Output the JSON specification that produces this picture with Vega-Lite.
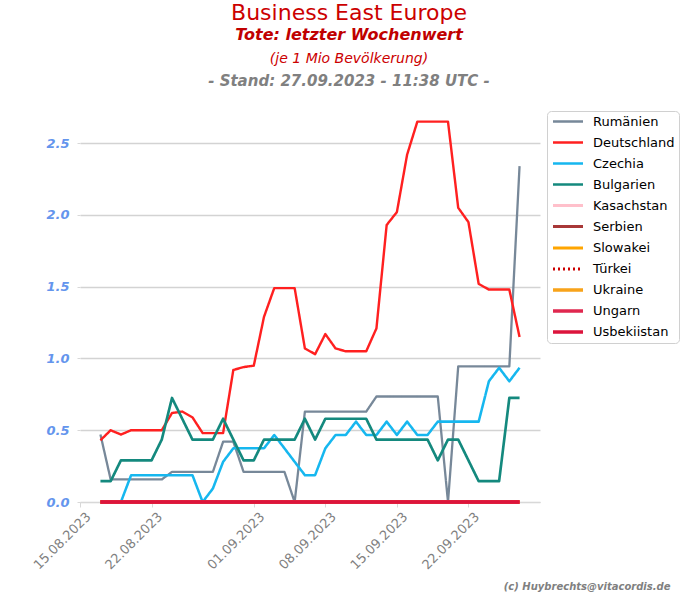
{
  "$schema": "https://vega.github.io/schema/vega-lite/v6.json",
  "background": "white",
  "padding": {"left": 31, "top": 2, "right": 5, "bottom": 5},
  "config": {"font": "DejaVu Sans", "view": {"stroke": null}, "concat": {"spacing": 0}},
  "title": {
    "text": "Business East Europe",
    "subtitle": "Tote: letzter Wochenwert",
    "font": "DejaVu Sans", "fontSize": 22, "fontWeight": "normal", "color": "#cc0000",
    "subtitleFont": "DejaVu Sans", "subtitleFontSize": 16, "subtitleFontWeight": "bold", "subtitleFontStyle": "italic", "subtitleColor": "#c00000",
    "subtitlePadding": 2, "anchor": "middle", "frame": "group", "dx": 39, "offset": 8
  },
  "vconcat": [
    {
      "width": 460,
      "height": 399,
      "title": {
        "text": "(je 1 Mio Bevölkerung)",
        "subtitle": "- Stand: 27.09.2023 - 11:38 UTC -",
        "font": "DejaVu Sans", "fontSize": 14, "fontWeight": "normal", "fontStyle": "italic", "color": "#cc0000",
        "subtitleFont": "DejaVu Sans", "subtitleFontSize": 15, "subtitleFontWeight": "bold", "subtitleFontStyle": "italic", "subtitleColor": "#808080",
        "subtitlePadding": 8, "anchor": "middle", "frame": "group", "dx": 39, "offset": 14
      },
      "data": {"values": [
        {"Datum": "2023-08-17", "Rumänien": 0.47, "Deutschland": 0.43, "Czechia": null, "Bulgarien": 0.145, "Kasachstan": 0, "Serbien": 0, "Slowakei": 0, "Türkei": 0, "Ukraine": 0, "Ungarn": 0, "Usbekiistan": 0},
        {"Datum": "2023-08-18", "Rumänien": 0.157, "Deutschland": 0.5, "Czechia": null, "Bulgarien": 0.145, "Kasachstan": 0, "Serbien": 0, "Slowakei": 0, "Türkei": 0, "Ukraine": 0, "Ungarn": 0, "Usbekiistan": 0},
        {"Datum": "2023-08-19", "Rumänien": 0.157, "Deutschland": 0.47, "Czechia": 0, "Bulgarien": 0.29, "Kasachstan": 0, "Serbien": 0, "Slowakei": 0, "Türkei": 0, "Ukraine": 0, "Ungarn": 0, "Usbekiistan": 0},
        {"Datum": "2023-08-20", "Rumänien": 0.157, "Deutschland": 0.5, "Czechia": 0.187, "Bulgarien": 0.29, "Kasachstan": 0, "Serbien": 0, "Slowakei": 0, "Türkei": 0, "Ukraine": 0, "Ungarn": 0, "Usbekiistan": 0},
        {"Datum": "2023-08-21", "Rumänien": 0.157, "Deutschland": 0.5, "Czechia": 0.187, "Bulgarien": 0.29, "Kasachstan": 0, "Serbien": 0, "Slowakei": 0, "Türkei": 0, "Ukraine": 0, "Ungarn": 0, "Usbekiistan": 0},
        {"Datum": "2023-08-22", "Rumänien": 0.157, "Deutschland": 0.5, "Czechia": 0.187, "Bulgarien": 0.29, "Kasachstan": 0, "Serbien": 0, "Slowakei": 0, "Türkei": 0, "Ukraine": 0, "Ungarn": 0, "Usbekiistan": 0},
        {"Datum": "2023-08-23", "Rumänien": 0.157, "Deutschland": 0.5, "Czechia": 0.187, "Bulgarien": 0.435, "Kasachstan": 0, "Serbien": 0, "Slowakei": 0, "Türkei": 0, "Ukraine": 0, "Ungarn": 0, "Usbekiistan": 0},
        {"Datum": "2023-08-24", "Rumänien": 0.21, "Deutschland": 0.62, "Czechia": 0.187, "Bulgarien": 0.725, "Kasachstan": 0, "Serbien": 0, "Slowakei": 0, "Türkei": 0, "Ukraine": 0, "Ungarn": 0, "Usbekiistan": 0},
        {"Datum": "2023-08-25", "Rumänien": 0.21, "Deutschland": 0.63, "Czechia": 0.187, "Bulgarien": 0.58, "Kasachstan": 0, "Serbien": 0, "Slowakei": 0, "Türkei": 0, "Ukraine": 0, "Ungarn": 0, "Usbekiistan": 0},
        {"Datum": "2023-08-26", "Rumänien": 0.21, "Deutschland": 0.59, "Czechia": 0.187, "Bulgarien": 0.435, "Kasachstan": 0, "Serbien": 0, "Slowakei": 0, "Türkei": 0, "Ukraine": 0, "Ungarn": 0, "Usbekiistan": 0},
        {"Datum": "2023-08-27", "Rumänien": 0.21, "Deutschland": 0.48, "Czechia": 0, "Bulgarien": 0.435, "Kasachstan": 0, "Serbien": 0, "Slowakei": 0, "Türkei": 0, "Ukraine": 0, "Ungarn": 0, "Usbekiistan": 0},
        {"Datum": "2023-08-28", "Rumänien": 0.21, "Deutschland": 0.48, "Czechia": 0.094, "Bulgarien": 0.435, "Kasachstan": 0, "Serbien": 0, "Slowakei": 0, "Türkei": 0, "Ukraine": 0, "Ungarn": 0, "Usbekiistan": 0},
        {"Datum": "2023-08-29", "Rumänien": 0.42, "Deutschland": 0.48, "Czechia": 0.28, "Bulgarien": 0.58, "Kasachstan": 0, "Serbien": 0, "Slowakei": 0, "Türkei": 0, "Ukraine": 0, "Ungarn": 0, "Usbekiistan": 0},
        {"Datum": "2023-08-30", "Rumänien": 0.42, "Deutschland": 0.92, "Czechia": 0.374, "Bulgarien": 0.435, "Kasachstan": 0, "Serbien": 0, "Slowakei": 0, "Türkei": 0, "Ukraine": 0, "Ungarn": 0, "Usbekiistan": 0},
        {"Datum": "2023-08-31", "Rumänien": 0.21, "Deutschland": 0.94, "Czechia": 0.374, "Bulgarien": 0.29, "Kasachstan": 0, "Serbien": 0, "Slowakei": 0, "Türkei": 0, "Ukraine": 0, "Ungarn": 0, "Usbekiistan": 0},
        {"Datum": "2023-09-01", "Rumänien": 0.21, "Deutschland": 0.95, "Czechia": 0.374, "Bulgarien": 0.29, "Kasachstan": 0, "Serbien": 0, "Slowakei": 0, "Türkei": 0, "Ukraine": 0, "Ungarn": 0, "Usbekiistan": 0},
        {"Datum": "2023-09-02", "Rumänien": 0.21, "Deutschland": 1.29, "Czechia": 0.374, "Bulgarien": 0.435, "Kasachstan": 0, "Serbien": 0, "Slowakei": 0, "Türkei": 0, "Ukraine": 0, "Ungarn": 0, "Usbekiistan": 0},
        {"Datum": "2023-09-03", "Rumänien": 0.21, "Deutschland": 1.49, "Czechia": 0.467, "Bulgarien": 0.435, "Kasachstan": 0, "Serbien": 0, "Slowakei": 0, "Türkei": 0, "Ukraine": 0, "Ungarn": 0, "Usbekiistan": 0},
        {"Datum": "2023-09-04", "Rumänien": 0.21, "Deutschland": 1.49, "Czechia": 0.374, "Bulgarien": 0.435, "Kasachstan": 0, "Serbien": 0, "Slowakei": 0, "Türkei": 0, "Ukraine": 0, "Ungarn": 0, "Usbekiistan": 0},
        {"Datum": "2023-09-05", "Rumänien": 0, "Deutschland": 1.49, "Czechia": 0.28, "Bulgarien": 0.435, "Kasachstan": 0, "Serbien": 0, "Slowakei": 0, "Türkei": 0, "Ukraine": 0, "Ungarn": 0, "Usbekiistan": 0},
        {"Datum": "2023-09-06", "Rumänien": 0.63, "Deutschland": 1.07, "Czechia": 0.187, "Bulgarien": 0.58, "Kasachstan": 0, "Serbien": 0, "Slowakei": 0, "Türkei": 0, "Ukraine": 0, "Ungarn": 0, "Usbekiistan": 0},
        {"Datum": "2023-09-07", "Rumänien": 0.63, "Deutschland": 1.03, "Czechia": 0.187, "Bulgarien": 0.435, "Kasachstan": 0, "Serbien": 0, "Slowakei": 0, "Türkei": 0, "Ukraine": 0, "Ungarn": 0, "Usbekiistan": 0},
        {"Datum": "2023-09-08", "Rumänien": 0.63, "Deutschland": 1.17, "Czechia": 0.374, "Bulgarien": 0.58, "Kasachstan": 0, "Serbien": 0, "Slowakei": 0, "Türkei": 0, "Ukraine": 0, "Ungarn": 0, "Usbekiistan": 0},
        {"Datum": "2023-09-09", "Rumänien": 0.63, "Deutschland": 1.07, "Czechia": 0.467, "Bulgarien": 0.58, "Kasachstan": 0, "Serbien": 0, "Slowakei": 0, "Türkei": 0, "Ukraine": 0, "Ungarn": 0, "Usbekiistan": 0},
        {"Datum": "2023-09-10", "Rumänien": 0.63, "Deutschland": 1.05, "Czechia": 0.467, "Bulgarien": 0.58, "Kasachstan": 0, "Serbien": 0, "Slowakei": 0, "Türkei": 0, "Ukraine": 0, "Ungarn": 0, "Usbekiistan": 0},
        {"Datum": "2023-09-11", "Rumänien": 0.63, "Deutschland": 1.05, "Czechia": 0.56, "Bulgarien": 0.58, "Kasachstan": 0, "Serbien": 0, "Slowakei": 0, "Türkei": 0, "Ukraine": 0, "Ungarn": 0, "Usbekiistan": 0},
        {"Datum": "2023-09-12", "Rumänien": 0.63, "Deutschland": 1.05, "Czechia": 0.467, "Bulgarien": 0.58, "Kasachstan": 0, "Serbien": 0, "Slowakei": 0, "Türkei": 0, "Ukraine": 0, "Ungarn": 0, "Usbekiistan": 0},
        {"Datum": "2023-09-13", "Rumänien": 0.735, "Deutschland": 1.21, "Czechia": 0.467, "Bulgarien": 0.435, "Kasachstan": 0, "Serbien": 0, "Slowakei": 0, "Türkei": 0, "Ukraine": 0, "Ungarn": 0, "Usbekiistan": 0},
        {"Datum": "2023-09-14", "Rumänien": 0.735, "Deutschland": 1.93, "Czechia": 0.56, "Bulgarien": 0.435, "Kasachstan": 0, "Serbien": 0, "Slowakei": 0, "Türkei": 0, "Ukraine": 0, "Ungarn": 0, "Usbekiistan": 0},
        {"Datum": "2023-09-15", "Rumänien": 0.735, "Deutschland": 2.02, "Czechia": 0.467, "Bulgarien": 0.435, "Kasachstan": 0, "Serbien": 0, "Slowakei": 0, "Türkei": 0, "Ukraine": 0, "Ungarn": 0, "Usbekiistan": 0},
        {"Datum": "2023-09-16", "Rumänien": 0.735, "Deutschland": 2.42, "Czechia": 0.56, "Bulgarien": 0.435, "Kasachstan": 0, "Serbien": 0, "Slowakei": 0, "Türkei": 0, "Ukraine": 0, "Ungarn": 0, "Usbekiistan": 0},
        {"Datum": "2023-09-17", "Rumänien": 0.735, "Deutschland": 2.65, "Czechia": 0.467, "Bulgarien": 0.435, "Kasachstan": 0, "Serbien": 0, "Slowakei": 0, "Türkei": 0, "Ukraine": 0, "Ungarn": 0, "Usbekiistan": 0},
        {"Datum": "2023-09-18", "Rumänien": 0.735, "Deutschland": 2.65, "Czechia": 0.467, "Bulgarien": 0.435, "Kasachstan": 0, "Serbien": 0, "Slowakei": 0, "Türkei": 0, "Ukraine": 0, "Ungarn": 0, "Usbekiistan": 0},
        {"Datum": "2023-09-19", "Rumänien": 0.735, "Deutschland": 2.65, "Czechia": 0.56, "Bulgarien": 0.29, "Kasachstan": 0, "Serbien": 0, "Slowakei": 0, "Türkei": 0, "Ukraine": 0, "Ungarn": 0, "Usbekiistan": 0},
        {"Datum": "2023-09-20", "Rumänien": 0, "Deutschland": 2.65, "Czechia": 0.56, "Bulgarien": 0.435, "Kasachstan": 0, "Serbien": 0, "Slowakei": 0, "Türkei": 0, "Ukraine": 0, "Ungarn": 0, "Usbekiistan": 0},
        {"Datum": "2023-09-21", "Rumänien": 0.945, "Deutschland": 2.05, "Czechia": 0.56, "Bulgarien": 0.435, "Kasachstan": 0, "Serbien": 0, "Slowakei": 0, "Türkei": 0, "Ukraine": 0, "Ungarn": 0, "Usbekiistan": 0},
        {"Datum": "2023-09-22", "Rumänien": 0.945, "Deutschland": 1.95, "Czechia": 0.56, "Bulgarien": 0.29, "Kasachstan": 0, "Serbien": 0, "Slowakei": 0, "Türkei": 0, "Ukraine": 0, "Ungarn": 0, "Usbekiistan": 0},
        {"Datum": "2023-09-23", "Rumänien": 0.945, "Deutschland": 1.52, "Czechia": 0.56, "Bulgarien": 0.145, "Kasachstan": 0, "Serbien": 0, "Slowakei": 0, "Türkei": 0, "Ukraine": 0, "Ungarn": 0, "Usbekiistan": 0},
        {"Datum": "2023-09-24", "Rumänien": 0.945, "Deutschland": 1.48, "Czechia": 0.841, "Bulgarien": 0.145, "Kasachstan": 0, "Serbien": 0, "Slowakei": 0, "Türkei": 0, "Ukraine": 0, "Ungarn": 0, "Usbekiistan": 0},
        {"Datum": "2023-09-25", "Rumänien": 0.945, "Deutschland": 1.48, "Czechia": 0.935, "Bulgarien": 0.145, "Kasachstan": 0, "Serbien": 0, "Slowakei": 0, "Türkei": 0, "Ukraine": 0, "Ungarn": 0, "Usbekiistan": 0},
        {"Datum": "2023-09-26", "Rumänien": 0.945, "Deutschland": 1.48, "Czechia": 0.841, "Bulgarien": 0.725, "Kasachstan": 0, "Serbien": 0, "Slowakei": 0, "Türkei": 0, "Ukraine": 0, "Ungarn": 0, "Usbekiistan": 0},
        {"Datum": "2023-09-27", "Rumänien": 2.34, "Deutschland": 1.15, "Czechia": 0.935, "Bulgarien": 0.725, "Kasachstan": 0, "Serbien": 0, "Slowakei": 0, "Türkei": 0, "Ukraine": 0, "Ungarn": 0, "Usbekiistan": 0}
      ]},
      "transform": [
        {"fold": ["Rumänien", "Deutschland", "Czechia", "Bulgarien", "Kasachstan", "Serbien", "Slowakei", "Türkei", "Ukraine", "Ungarn", "Usbekiistan"], "as": ["Land", "Wert"]}
      ],
      "mark": {"type": "line", "strokeJoin": "round", "strokeCap": "butt"},
      "encoding": {
        "x": {
          "field": "Datum", "type": "temporal",
          "scale": {"type": "utc", "domain": [{"year": 2023, "month": 8, "date": 15, "utc": true}, {"year": 2023, "month": 9, "date": 29, "utc": true}]},
          "axis": {
            "values": [
              {"year": 2023, "month": 8, "date": 15, "utc": true},
              {"year": 2023, "month": 8, "date": 22, "utc": true},
              {"year": 2023, "month": 9, "date": 1, "utc": true},
              {"year": 2023, "month": 9, "date": 8, "utc": true},
              {"year": 2023, "month": 9, "date": 15, "utc": true},
              {"year": 2023, "month": 9, "date": 22, "utc": true}
            ],
            "labelExpr": "utcFormat(datum.value, '%d.%m.%Y')",
            "labelAngle": -45, "labelColor": "#808080", "labelFontSize": 13, "labelFont": "DejaVu Sans", "labelPadding": 3, "labelOffset": 4,
            "domainColor": "#d8d8d8", "tickColor": "#d8d8d8", "tickSize": 5, "grid": false,
            "title": "(c) Huybrechts@vitacordis.de",
            "titleX": 590, "titleY": 87, "titleAlign": "right", "titleBaseline": "alphabetic",
            "titleFontSize": 10, "titleFontStyle": "italic", "titleFontWeight": "bold", "titleColor": "#808080", "titleFont": "DejaVu Sans"
          }
        },
        "y": {
          "field": "Wert", "type": "quantitative",
          "scale": {"domain": [0, 2.78], "nice": false, "zero": true},
          "axis": {
            "values": [0, 0.5, 1, 1.5, 2, 2.5], "format": ".1f",
            "labelColor": "#6495ed", "labelFontWeight": "bold", "labelFontStyle": "italic", "labelFontSize": 13, "labelFont": "DejaVu Sans",
            "labelPadding": 8, "domain": false, "ticks": true, "tickColor": "#d8d8d8", "tickSize": 3,
            "gridColor": "#d3d3d3", "gridWidth": 1.5, "title": null
          }
        },
        "color": {
          "field": "Land", "type": "nominal",
          "scale": {
            "domain": ["Rumänien", "Deutschland", "Czechia", "Bulgarien", "Kasachstan", "Serbien", "Slowakei", "Türkei", "Ukraine", "Ungarn", "Usbekiistan"],
            "range": ["#778899", "#ff2020", "#16b7ef", "#14897e", "#ffc0cb", "#a83838", "#ffa500", "#cc0000", "#f8a31a", "#e0284f", "#dc143c"]
          },
          "legend": {
            "title": null, "orient": "none", "legendX": 467, "legendY": 8,
            "labelFontSize": 13, "labelColor": "#000000", "labelFont": "DejaVu Sans",
            "symbolType": "M-1,0H5", "symbolSize": 100, "labelOffset": 28, "rowPadding": 7,
            "padding": 4, "strokeColor": "#d0d0d0", "fillColor": "#ffffff", "cornerRadius": 4
          }
        },
        "strokeDash": {
          "field": "Land", "type": "nominal",
          "scale": {
            "domain": ["Rumänien", "Deutschland", "Czechia", "Bulgarien", "Kasachstan", "Serbien", "Slowakei", "Türkei", "Ukraine", "Ungarn", "Usbekiistan"],
            "range": [[1, 0], [1, 0], [1, 0], [1, 0], [1, 0], [1, 0], [1, 0], [2, 3], [1, 0], [1, 0], [1, 0]]
          },
          "legend": null
        },
        "strokeWidth": {
          "field": "Land", "type": "nominal",
          "scale": {
            "domain": ["Rumänien", "Deutschland", "Czechia", "Bulgarien", "Kasachstan", "Serbien", "Slowakei", "Türkei", "Ukraine", "Ungarn", "Usbekiistan"],
            "range": [2.3, 3.5, 3.5, 2.3, 2.3, 2.3, 2.3, 2.3, 2.3, 2.3, 2.3]
          },
          "legend": null
        }
      }
    }
  ]
}
